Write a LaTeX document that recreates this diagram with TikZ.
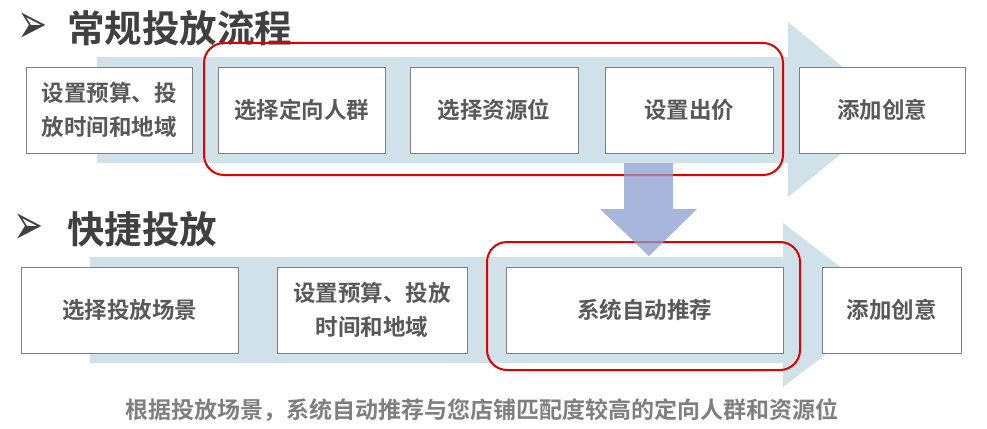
\documentclass[tikz,border=0pt]{standalone}
\usepackage{fontspec}
\setmainfont{Noto Sans CJK SC}[BoldFont={Noto Sans CJK SC Bold}]
\newfontfamily\symfont{DejaVu Sans Bold}
\definecolor{flowblue}{HTML}{D0E1E9}
\definecolor{downblue}{HTML}{8C9ED0}
\definecolor{boxline}{HTML}{808080}
\definecolor{boxtext}{HTML}{595959}
\definecolor{titletext}{HTML}{404040}
\definecolor{captext}{HTML}{7F7F7F}
\definecolor{hlred}{HTML}{E00000}
\tikzset{
  stepbox/.style={draw=boxline, line width=0.9pt, fill=white, minimum height=86pt,
    inner sep=0pt, align=center, text=boxtext, font=\fontsize{22.5}{34}\selectfont\bfseries},
  hlbox/.style={draw=hlred, line width=2pt, rounded corners=20pt, inner sep=0pt},
  titlestyle/.style={anchor=west, text=titletext, font=\fontsize{37.5}{42}\selectfont\bfseries, inner sep=0pt},
  bulletstyle/.style={text=titletext, font=\symfont\fontsize{36}{40}\selectfont, inner sep=0pt,
    transform shape, yscale=1.6}
}
\begin{document}
\begin{tikzpicture}[x=1pt,y=-1pt]
\useasboundingbox (0,0) rectangle (987,428);
% big flow arrows
\fill[flowblue] (97,57) -- (788,57) -- (788,22) -- (895,110) -- (788,197) -- (788,163) -- (97,163) -- cycle;
\fill[flowblue] (90,257) -- (783,257) -- (783,223) -- (890,305) -- (783,387) -- (783,363) -- (90,363) -- cycle;
% titles
\node[bulletstyle] (b1) at (33,28) {➢};
\node[titlestyle] (t1) at (67,28) {常规投放流程};
\node[bulletstyle] (b2) at (29,229) {➢};
\node[titlestyle] (t2) at (67,229) {快捷投放};
% row 1
\node[stepbox, minimum width=166pt] (a1) at (109,110) {设置预算、投\\放时间和地域};
\node[stepbox, minimum width=167pt] (a2) at (301.5,110) {选择定向人群};
\node[stepbox, minimum width=168pt] (a3) at (494,110) {选择资源位};
\node[stepbox, minimum width=168pt] (a4) at (689,110) {设置出价};
\node[stepbox, minimum width=166pt] (a5) at (882,110) {添加创意};
% row 2
\node[stepbox, minimum width=217pt] (c1) at (129.5,310) {选择投放场景};
\node[stepbox, minimum width=190pt] (c2) at (372,310) {设置预算、投放\\时间和地域};
\node[stepbox, minimum width=277pt] (c3) at (644.5,310) {系统自动推荐};
\node[stepbox, minimum width=139pt] (c4) at (891.5,310) {添加创意};
% highlight frames
\node[hlbox, minimum width=579pt, minimum height=132pt] (r1) at (493.5,109) {};
\node[hlbox, minimum width=313pt, minimum height=128pt] (r2) at (643.5,306) {};
% down arrow
\fill[downblue, opacity=0.75] (624,163) -- (673,163) -- (673,209) -- (697,209) -- (649,256) -- (600,209) -- (624,209) -- cycle;
% caption
\node[text=captext, font=\fontsize{23}{26}\selectfont\bfseries, inner sep=0pt] (cap) at (482,410) {根据投放场景，系统自动推荐与您店铺匹配度较高的定向人群和资源位};
\end{tikzpicture}
\end{document}
